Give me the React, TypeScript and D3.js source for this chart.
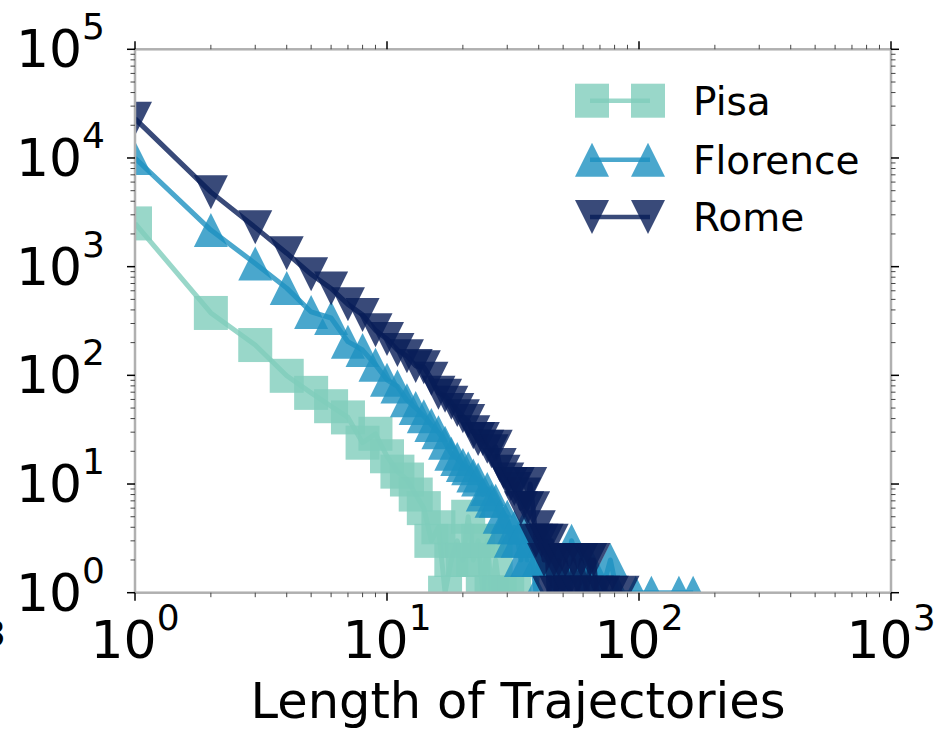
import React from "react"
import * as d3 from "d3"

// trajectory length -> number of trajectories (log-log histogram)
const PISA_LEN = [1, 2, 3, 4, 5, 6, 7, 8, 9, 10, 11, 12, 13, 14, 15, 16, 17, 18, 19, 20, 21, 22, 23, 24, 25, 26, 27, 28, 30, 32]
const PISA_CNT = [2500, 375, 190, 99, 69, 52, 41, 24, 29, 18, 13, 11, 8, 6, 3, 4, 1, 2, 3, 2, 5, 2, 3, 1, 3, 1, 2, 1, 1, 1]

const FLORENCE_LEN = [1, 2, 3, 4, 5, 6, 7, 8, 9, 10, 11, 12, 13, 14, 15, 16, 17, 18, 19, 20, 21, 22, 23, 24, 25, 26, 27, 28, 29, 30, 31, 32, 33, 34, 35, 36, 37, 39, 40, 42, 44, 46, 48, 51, 54, 57, 60, 63, 67, 71, 77, 82, 97, 112, 144, 164]
const FLORENCE_CNT = [10000, 2170, 1070, 635, 383, 337, 204, 171, 125, 91, 79, 59, 50, 42, 35, 30, 24, 19, 17, 15, 14, 12, 11, 8, 9, 7, 7, 5, 4, 5, 3, 4, 3, 2, 4, 2, 3, 1, 2, 3, 2, 1, 2, 1, 3, 2, 1, 2, 1, 1, 2, 1, 1, 1, 1, 1]

const ROME_LEN = [1, 2, 3, 4, 5, 6, 7, 8, 9, 10, 11, 12, 13, 14, 15, 16, 17, 18, 19, 20, 21, 22, 23, 24, 25, 26, 27, 28, 29, 30, 31, 32, 33, 34, 35, 36, 37, 38, 39, 40, 41, 42, 43, 44, 45, 46, 47, 48, 50, 51, 53, 55, 57, 59, 62, 64, 66, 68, 72, 78, 86]
const ROME_CNT = [23000, 4850, 2300, 1330, 850, 630, 450, 360, 260, 216, 171, 150, 122, 119, 93, 69, 65, 56, 48, 42, 38, 30, 26, 26, 22, 20, 22, 15, 13, 11, 10, 9, 10, 6, 8, 6, 10, 6, 3, 4, 3, 2, 3, 1, 3, 2, 1, 2, 1, 2, 1, 2, 1, 2, 1, 2, 2, 1, 1, 1, 1]

const SERIES = [
  { name: "Pisa", color: "#7fcdbb", marker: "square", len: PISA_LEN, cnt: PISA_CNT },
  { name: "Florence", color: "#1d91c0", marker: "up", len: FLORENCE_LEN, cnt: FLORENCE_CNT },
  { name: "Rome", color: "#081d58", marker: "down", len: ROME_LEN, cnt: ROME_CNT },
]

const X_MAJOR = [1, 10, 100, 1000]
const Y_MAJOR = [1, 10, 100, 1000, 10000, 100000]

const FONT = "DejaVu Sans, Verdana, sans-serif"
const MS = 34 // marker size
const ALPHA = 0.8

function Marker({ kind, x, y, color }) {
  const h = MS / 2
  if (kind === "square") {
    return <rect x={x - h} y={y - h} width={MS} height={MS} fill={color} fillOpacity={ALPHA} />
  }
  const pts =
    kind === "up"
      ? [[x, y - h], [x - h, y + h], [x + h, y + h]]
      : [[x, y + h], [x - h, y - h], [x + h, y - h]]
  return <polygon points={pts.map(p => p.join(",")).join(" ")} fill={color} fillOpacity={ALPHA} />
}

function minorTicks(lo, hi) {
  const out = []
  for (let p = lo; p < hi; p++) {
    for (let k = 2; k <= 9; k++) out.push(k * Math.pow(10, p))
  }
  return out
}

export default function App() {
  const width = 935
  const height = 729
  const left = 135
  const right = 891
  const top = 49.3
  const bottom = 592.7

  const x = d3.scaleLog().domain([1, 1000]).range([left, right])
  const y = d3.scaleLog().domain([1, 100000]).range([bottom, top])

  const line = d3
    .line()
    .x(d => x(d[0]))
    .y(d => y(d[1]))

  const xMinor = minorTicks(0, 3)
  const yMinor = minorTicks(0, 5)
  const spine = "#b0b0b0"

  return (
    <svg
      width={width}
      height={height}
      style={{ position: "absolute", left: 0, top: 0, background: "#fff" }}
      fontFamily={FONT}
    >
      <defs>
        <clipPath id="plot-clip">
          <rect x={left} y={top} width={right - left} height={bottom - top} />
        </clipPath>
      </defs>

      {/* data */}
      <g clipPath="url(#plot-clip)">
        {SERIES.map(s => {
          const pts = s.len.map((l, i) => [l, s.cnt[i]])
          return (
            <g key={s.name}>
              <path
                d={line(pts)}
                fill="none"
                stroke={s.color}
                strokeOpacity={ALPHA}
                strokeWidth={5}
                strokeLinejoin="round"
              />
              {pts.map((p, i) => (
                <Marker key={i} kind={s.marker} x={x(p[0])} y={y(p[1])} color={s.color} />
              ))}
            </g>
          )
        })}
      </g>

      {/* spines */}
      <rect x={left} y={top} width={right - left} height={bottom - top} fill="none" stroke={spine} strokeWidth={2.5} />

      {/* x ticks, bottom and top */}
      {xMinor.map(t => (
        <g key={"xm" + t} stroke="#444" strokeWidth={1}>
          <line x1={x(t)} x2={x(t)} y1={bottom} y2={bottom + 4.5} />
          <line x1={x(t)} x2={x(t)} y1={top} y2={top - 4.5} />
        </g>
      ))}
      {X_MAJOR.map(t => (
        <g key={"xM" + t} stroke="#000" strokeWidth={1.5}>
          <line x1={x(t)} x2={x(t)} y1={bottom} y2={bottom + 8} />
          <line x1={x(t)} x2={x(t)} y1={top} y2={top - 8} />
        </g>
      ))}
      {/* y ticks, left and right */}
      {yMinor.map(t => (
        <g key={"ym" + t} stroke="#444" strokeWidth={1}>
          <line x1={left} x2={left - 4.5} y1={y(t)} y2={y(t)} />
          <line x1={right} x2={right + 4.5} y1={y(t)} y2={y(t)} />
        </g>
      ))}
      {Y_MAJOR.map(t => (
        <g key={"yM" + t} stroke="#000" strokeWidth={1.5}>
          <line x1={left} x2={left - 8} y1={y(t)} y2={y(t)} />
          <line x1={right} x2={right + 8} y1={y(t)} y2={y(t)} />
        </g>
      ))}

      {/* tick labels */}
      {X_MAJOR.map(t => (
        <text key={"xl" + t} x={x(t)} y={658} textAnchor="middle" fontSize={52} fill="#000">
          10
          <tspan fontSize={36} dy={-28}>
            {Math.round(Math.log10(t))}
          </tspan>
        </text>
      ))}
      {Y_MAJOR.map(t => (
        <text key={"yl" + t} x={105} y={y(t) + 18} textAnchor="end" fontSize={52} fill="#000">
          10
          <tspan fontSize={36} dy={-28}>
            {Math.round(Math.log10(t))}
          </tspan>
        </text>
      ))}
      <text x={-17} y={646} fontSize={36} fill="#000">
        3
      </text>

      {/* axis label */}
      <text x={518} y={718} textAnchor="middle" fontSize={49.5} fill="#000">
        Length of Trajectories
      </text>

      {/* legend */}
      {SERIES.map((s, i) => {
        const cy = [100.7, 159.7, 217][i]
        return (
          <g key={"lg" + s.name}>
            <line x1={590} x2={650} y1={cy} y2={cy} stroke={s.color} strokeOpacity={ALPHA} strokeWidth={4.5} />
            <Marker kind={s.marker} x={592} y={cy} color={s.color} />
            <Marker kind={s.marker} x={648} y={cy} color={s.color} />
            <text x={693} y={cy + 14} fontSize={39} fill="#000">
              {s.name}
            </text>
          </g>
        )
      })}
    </svg>
  )
}
